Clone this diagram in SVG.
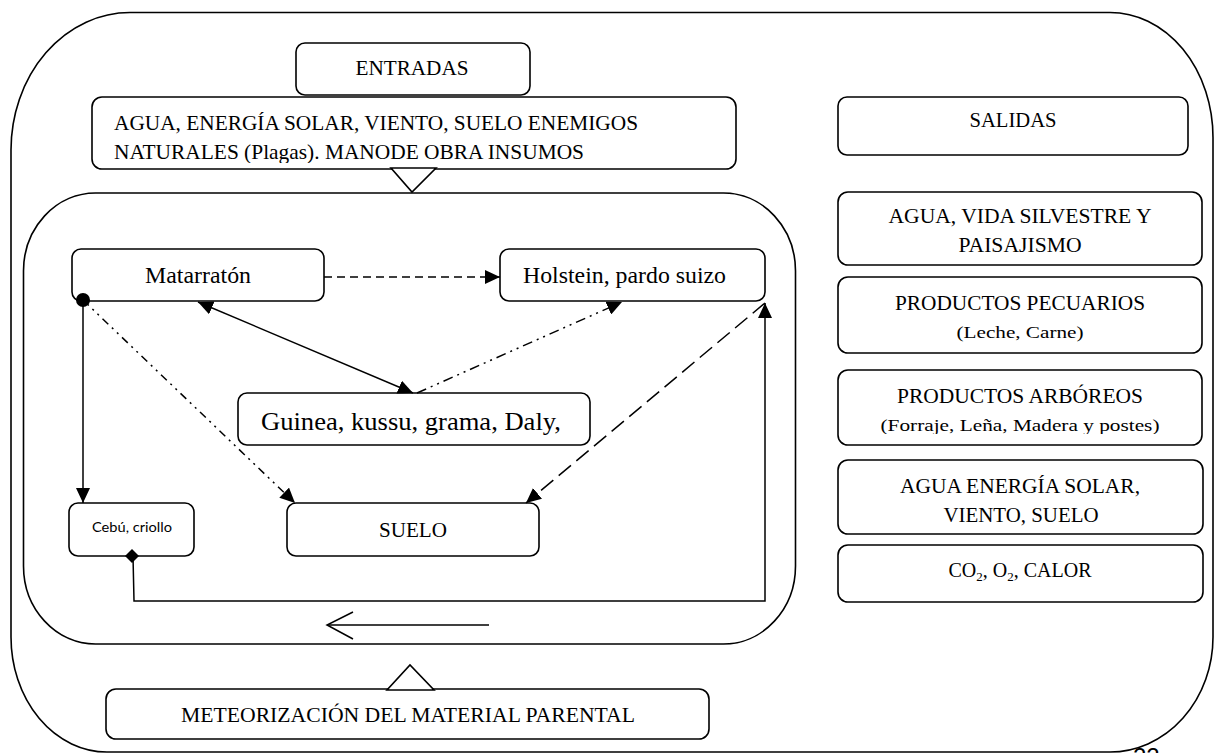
<svg xmlns="http://www.w3.org/2000/svg" width="1216" height="753" viewBox="0 0 1216 753">
<style>
.box{fill:#fff;stroke:#000;stroke-width:1.6}
.frame{fill:none;stroke:#000;stroke-width:1.6}
.t{font-family:"Liberation Serif","Times New Roman",serif;fill:#000}
.s{font-family:Lato,"Liberation Sans",sans-serif;fill:#000}
.ln{fill:none;stroke:#000;stroke-width:1.5}
</style>
<defs>
<marker id="arr" markerUnits="userSpaceOnUse" markerWidth="16" markerHeight="14" refX="15" refY="7" orient="auto-start-reverse">
<path d="M0,0 L15,7 L0,14 Z" fill="#000"/>
</marker>
<clipPath id="clipAgua"><rect x="92" y="97" width="644" height="66"/></clipPath>
<clipPath id="clipForr"><rect x="838" y="370" width="364" height="64"/></clipPath>
</defs>

<g id="frames">
<path class="frame" d="M130,12.5 H1110 A103,125 0 0 1 1213,137.5 V637 A103,115 0 0 1 1110,752 H107 A96,115 0 0 1 11,637 V150 A119,137.5 0 0 1 130,12.5 Z"/>
<rect class="frame" x="23.5" y="193" width="772" height="451" rx="72" ry="78"/>
</g>

<g id="entradas">
<rect class="box" x="296" y="43" width="234" height="52" rx="9"/>
<text class="t" x="412" y="75" font-size="21" text-anchor="middle" textLength="113" lengthAdjust="spacingAndGlyphs">ENTRADAS</text>
</g>

<g id="insumos">
<rect class="box" x="92" y="97" width="644" height="72" rx="10"/>
<text class="t" x="114" y="130" font-size="22" textLength="524" lengthAdjust="spacingAndGlyphs">AGUA, ENERGÍA SOLAR, VIENTO, SUELO ENEMIGOS</text>
<text class="t" x="114" y="159" font-size="22" textLength="470" lengthAdjust="spacingAndGlyphs" clip-path="url(#clipAgua)">NATURALES (Plagas). MANODE OBRA INSUMOS</text>
<polygon class="box" points="391,168 436,168 412,192"/>
</g>

<g id="salidas">
<rect class="box" x="838" y="97" width="350" height="58" rx="9"/>
<text class="t" x="1013" y="127" font-size="20" text-anchor="middle" textLength="87" lengthAdjust="spacingAndGlyphs">SALIDAS</text>
</g>

<g id="vida-silvestre">
<rect class="box" x="838" y="192" width="364" height="73" rx="10"/>
<text class="t" x="1020" y="223" font-size="20" text-anchor="middle" textLength="263" lengthAdjust="spacingAndGlyphs">AGUA, VIDA SILVESTRE Y</text>
<text class="t" x="1020" y="252" font-size="20" text-anchor="middle" textLength="123" lengthAdjust="spacingAndGlyphs">PAISAJISMO</text>
</g>

<g id="pecuarios">
<rect class="box" x="838" y="277" width="364" height="76" rx="10"/>
<text class="t" x="1020" y="310" font-size="20" text-anchor="middle" textLength="250" lengthAdjust="spacingAndGlyphs">PRODUCTOS PECUARIOS</text>
<text class="t" x="1020" y="338" font-size="17" text-anchor="middle" textLength="127" lengthAdjust="spacingAndGlyphs">(Leche, Carne)</text>
</g>

<g id="arboreos">
<rect class="box" x="838" y="370" width="364" height="75" rx="10"/>
<text class="t" x="1020" y="403" font-size="20" text-anchor="middle" textLength="246" lengthAdjust="spacingAndGlyphs">PRODUCTOS ARBÓREOS</text>
<text class="t" x="1020" y="431" font-size="17" text-anchor="middle" textLength="279" lengthAdjust="spacingAndGlyphs" clip-path="url(#clipForr)">(Forraje, Leña, Madera y postes)</text>
</g>

<g id="energia">
<rect class="box" x="838" y="460" width="365" height="74" rx="10"/>
<text class="t" x="1020" y="493" font-size="20" text-anchor="middle" textLength="240" lengthAdjust="spacingAndGlyphs">AGUA ENERGÍA SOLAR,</text>
<text class="t" x="1021" y="522" font-size="20" text-anchor="middle" textLength="155" lengthAdjust="spacingAndGlyphs">VIENTO, SUELO</text>
</g>

<g id="co2">
<rect class="box" x="838" y="545" width="365" height="57" rx="10"/>
<text class="t" x="1020" y="577" font-size="20" text-anchor="middle">CO<tspan font-size="13" dy="4">2</tspan><tspan dy="-4">, O</tspan><tspan font-size="13" dy="4">2</tspan><tspan dy="-4">, CALOR</tspan></text>
</g>

<g id="matarraton">
<rect class="box" x="72" y="249" width="252" height="52" rx="9"/>
<text class="t" x="198" y="283" font-size="23" text-anchor="middle" textLength="106" lengthAdjust="spacingAndGlyphs">Matarratón</text>
</g>

<g id="holstein">
<rect class="box" x="500" y="249" width="265" height="52" rx="9"/>
<text class="t" x="523" y="283" font-size="23" textLength="203" lengthAdjust="spacingAndGlyphs">Holstein, pardo suizo</text>
</g>

<g id="guinea">
<rect class="box" x="238" y="393" width="352" height="52" rx="9"/>
<text class="t" x="261" y="430" font-size="26" textLength="300" lengthAdjust="spacingAndGlyphs">Guinea, kussu, grama, Daly,</text>
</g>

<g id="cebu">
<rect class="box" x="69" y="503" width="125" height="53" rx="9"/>
<text class="s" x="132" y="532" font-size="14" text-anchor="middle" textLength="80" lengthAdjust="spacingAndGlyphs">Cebú, criollo</text>
</g>

<g id="suelo">
<rect class="box" x="287" y="503" width="252" height="53" rx="9"/>
<text class="t" x="413" y="537" font-size="21" text-anchor="middle" textLength="68" lengthAdjust="spacingAndGlyphs">SUELO</text>
</g>

<g id="meteorizacion">
<rect class="box" x="106" y="689" width="603" height="50" rx="10"/>
<text class="t" x="181" y="722" font-size="22" textLength="454" lengthAdjust="spacingAndGlyphs">METEORIZACIÓN DEL MATERIAL PARENTAL</text>
<polygon class="box" points="387,690 434,690 410,665"/>
</g>

<g id="connectors">
<line class="ln" x1="324" y1="277" x2="500" y2="277" stroke-dasharray="8 5" marker-end="url(#arr)"/>
<line class="ln" x1="198" y1="302" x2="413" y2="393" marker-start="url(#arr)" marker-end="url(#arr)"/>
<line class="ln" x1="417" y1="393" x2="622" y2="302" stroke-dasharray="10 5 2 5 2 5" marker-end="url(#arr)"/>
<line class="ln" x1="83" y1="300" x2="83" y2="503" marker-end="url(#arr)"/>
<line class="ln" x1="83" y1="300" x2="295" y2="503" stroke-dasharray="8 5 2 5 2 5" marker-end="url(#arr)"/>
<line class="ln" x1="765" y1="303" x2="526" y2="503" stroke-dasharray="16 7" stroke-width="1.8" marker-end="url(#arr)"/>
<path class="ln" d="M133,556 L134,601 L765,601 L765,303" marker-end="url(#arr)"/>
<circle cx="83" cy="300" r="7" fill="#000"/>
<polygon points="132,549 139,556 132,563 125,556" fill="#000"/>
<line class="ln" x1="489" y1="625" x2="328" y2="625"/>
<polyline class="ln" points="353,612 327,625 353,639"/>
</g>

<text x="1133" y="765" font-family="Liberation Sans, Arial, sans-serif" font-size="24" fill="#000">22</text>
</svg>
